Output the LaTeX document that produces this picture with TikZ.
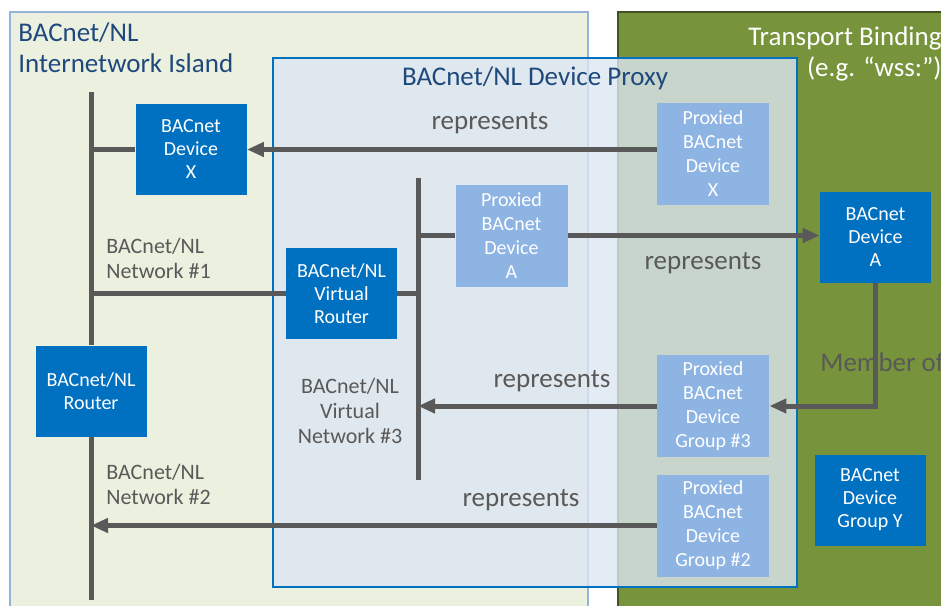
\documentclass[tikz,border=0pt]{standalone}
\usepackage{fontspec}
\setmainfont{Carlito}
\usetikzlibrary{arrows.meta,positioning}
\definecolor{BNBlue}{HTML}{0070C0}
\definecolor{BNLight}{HTML}{8EB4E3}
\definecolor{BNNavy}{HTML}{1F497D}
\definecolor{BNGray}{HTML}{595959}
\definecolor{BNIsland}{HTML}{EBF1DE}
\definecolor{BNIslandEdge}{HTML}{95B3D7}
\definecolor{BNGreen}{HTML}{77933C}
\definecolor{BNProxy}{HTML}{DCE6F2}
\tikzset{
  bus/.style={BNGray,line width=2.5pt},
  flow/.style={bus,-{Triangle[length=8.5pt,width=7pt]}},
  devbox/.style={fill=BNBlue,text=white,inner sep=0pt,align=center,
                 minimum width=55.5pt,minimum height=45.5pt,
                 font=\fontsize{10}{11.5}\selectfont},
  proxbox/.style={devbox,fill=BNLight,minimum width=56pt,minimum height=51pt,
                  font=\fontsize{10}{12}\selectfont},
  netlabel/.style={text=BNGray,inner sep=0pt,align=left,
                   font=\fontsize{11}{12.5}\selectfont},
  replabel/.style={text=BNGray,inner sep=0pt,font=\fontsize{13.5}{15.5}\selectfont},
  panelhead/.style={inner sep=0pt,font=\fontsize{13.5}{15.5}\selectfont},
}
\begin{document}
\begin{tikzpicture}[x=0.5pt,y=-0.5pt]
    \useasboundingbox (0,0) rectangle (941,605);
    \clip (0,0) rectangle (941,605);
    % --- panels ---
    \filldraw[fill=BNIsland,draw=BNIslandEdge,line width=0.8pt] (10,12) rectangle (588,620);
    \filldraw[fill=BNGreen,draw=BNGreen!55!black,line width=0.8pt] (618,12) rectangle (960,620);
    \filldraw[fill=BNProxy,fill opacity=0.8,draw=BNBlue,line width=1pt] (273,58) rectangle (797,587);
    \node[panelhead,text=BNNavy,anchor=west,align=left] (islandhead) at (18,47.5)
      {BACnet/NL\\Internetwork Island};
    \node[panelhead,text=BNNavy] (proxyhead) at (535,78) {BACnet/NL Device Proxy};
    \node[panelhead,text=white,anchor=east,align=right] (bindhead) at (942,54)
      {Transport Binding\\(e.g. “wss:”)};

    % --- devices ---
    \node[devbox] (devX) at (191,149.5) {BACnet\\Device\\X};
    \node[devbox] (vrouter) at (341.5,293.5) {BACnet/NL\\Virtual\\Router};
    \node[devbox] (router) at (91,391) {BACnet/NL\\Router};
    \node[devbox] (devA) at (875.5,237) {BACnet\\Device\\A};
    \node[devbox] (grpY) at (870,500) {BACnet\\Device\\Group Y};
    \node[proxbox] (pxX) at (713,154) {Proxied\\BACnet\\Device\\X};
    \node[proxbox] (pxA) at (511.5,235.5) {Proxied\\BACnet\\Device\\A};
    \node[proxbox] (pxG3) at (713,406) {Proxied\\BACnet\\Device\\Group \#3};
    \node[proxbox] (pxG2) at (713,525.5) {Proxied\\BACnet\\Device\\Group \#2};

    % --- networks ---
    \coordinate (n1top) at (91,92);
    \coordinate (n1bot) at (91,600);
    \coordinate (n3top) at (418,178);
    \coordinate (n3bot) at (418,480);
    \draw[bus] (n1top) -- (router.north);
    \draw[bus] (router.south) -- (n1bot);
    \draw[bus] (n3top) -- (n3bot);
    \draw[bus] (devX.west -| n1top) -- (devX.west);
    \draw[bus] (vrouter.west -| n1top) -- (vrouter.west);
    \draw[bus] (vrouter.east) -- (vrouter.east -| n3top);
    \draw[bus] (pxA.west -| n3top) -- (pxA.west);
    \node[netlabel,anchor=west] (net1) at (106,258.5) {BACnet/NL\\Network \#1};
    \node[netlabel,anchor=west] (net2) at (106,484.5) {BACnet/NL\\Network \#2};
    \node[netlabel,align=center] (net3) at (350,411) {BACnet/NL\\Virtual\\Network \#3};

    % --- represents ---
    \draw[flow] (devX.east -| pxX.west) -- (devX.east);
    \draw[flow] (pxA.east) -- (pxA.east -| devA.west);
    \draw[flow] (pxG3.west) -- (pxG3.west -| n3top);
    \draw[flow] (pxG2.west) -- (pxG2.west -| n1top);
    \node[replabel] (repX) at (490,123) {represents};
    \node[replabel] (repA) at (703,263) {represents};
    \node[replabel] (repG3) at (552,381) {represents};
    \node[replabel] (repG2) at (521,500) {represents};

    % --- membership ---
    \draw[flow] (devA.south) -- (devA.south |- pxG3.east) -- (pxG3.east);
    \node[replabel,anchor=west] (member) at (820,362) {Member of};
  \end{tikzpicture}
\end{document}
